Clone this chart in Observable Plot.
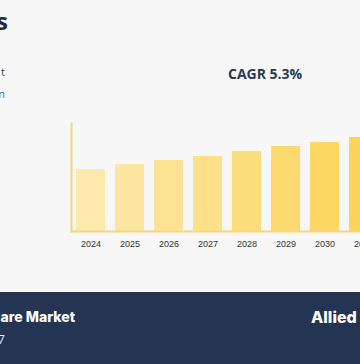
<!DOCTYPE html>
<html>
<head>
<meta charset="utf-8">
<script src="https://cdn.jsdelivr.net/npm/d3@7"></script>
<script src="https://cdn.jsdelivr.net/npm/@observablehq/plot@0.6"></script>
<style>
  html, body { margin: 0; padding: 0; }
  body { width: 360px; height: 364px; overflow: hidden; background: #f7f7f7; position: relative; font-family: "Open Sans", "Liberation Sans", sans-serif; }
  .abs { position: absolute; white-space: nowrap; }
  .frag { text-align: right; }
  #chart { position: absolute; left: 0; top: 110px; width: 400px; }
  #chart svg { max-width: none !important; }
  #banner { position: absolute; left: 0; top: 292px; width: 360px; height: 72px; background: #243453; }
</style>
</head>
<body>
<div class="abs frag" style="right:352px; top:4px; font-size:24px; font-weight:700; color:#1f2b40;">s</div>
<div class="abs frag" style="right:355px; top:64px; font-size:11px; color:#444;">t</div>
<div class="abs frag" style="right:355px; top:86px; font-size:11px; color:#2f6fd6;">n</div>
<div class="abs" id="cagr" style="left:228px; top:64px; font-size:14px; font-weight:700; color:#2b3a55;"></div>
<div id="chart"></div>
<div id="banner">
  <div class="abs frag" style="right:285px; top:16px; font-size:14px; font-weight:800; color:#fff; font-family:Inter, 'Open Sans', sans-serif;">are Market</div>
  <div class="abs frag" style="right:355px; top:38px; font-size:13px; color:#e8ecf3;">7</div>
  <div class="abs" style="left:311px; top:15px; font-size:16px; font-weight:800; color:#fff; font-family:Inter, 'Open Sans', sans-serif;">Allied</div>
</div>
<script>
const years = ["2024", "2025", "2026", "2027", "2028", "2029", "2030", "2031"];
const values = [62, 67, 71, 75, 80, 85, 89, 94];
const cagrLabel = "CAGR 5.3%";

document.getElementById("cagr").textContent = cagrLabel;

const data = years.map((y, i) => ({year: y, value: values[i]}));

const chart = Plot.plot({
  width: 392,
  height: 151,
  marginLeft: 71,
  marginRight: 9,
  marginTop: 13,
  marginBottom: 30,
  style: {background: "transparent", fontFamily: "'Liberation Sans', Arial, sans-serif", fontSize: "9px", color: "#333", maxWidth: "none"},
  x: {domain: years, paddingInner: 0.256, paddingOuter: 0.128, label: null},
  y: {domain: [0, 108], axis: null},
  color: {type: "linear", domain: [2024, 2031], range: ["#fde9ab", "#fcd458"]},
  marks: [
    Plot.barY(data, {x: "year", y: "value", fill: d => +d.year}),
    Plot.frame({anchor: "left", stroke: "#f3d77c", strokeWidth: 2}),
    Plot.frame({anchor: "bottom", stroke: "#f3d77c", strokeWidth: 2}),
    Plot.axisX({tickSize: 0, tickPadding: 9, fill: "#333", label: null})
  ]
});
document.getElementById("chart").appendChild(chart);
</script>
</body>
</html>
